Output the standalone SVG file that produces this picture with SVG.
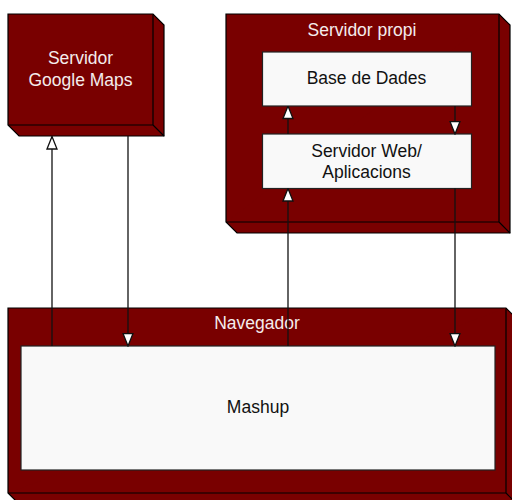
<svg xmlns="http://www.w3.org/2000/svg" width="512" height="500" viewBox="0 0 512 500">
  <style>
    .node path { fill: #790000; stroke: #000; stroke-width: 1.2; stroke-linejoin: miter; }
    .part { fill: #f9f9f9; stroke: #222; stroke-width: 1.2; }
    .lbl { font-family: "Liberation Sans", Arial, sans-serif; font-size: 17.5px; text-anchor: middle; }
    .on-red { fill: #f4ecec; }
    .on-white { fill: #111; }
    .conn line { stroke: #111; stroke-width: 1.3; fill: none; }
  </style>
  <defs>
    <!-- hollow triangular arrowhead, tip at the line end -->
    <marker id="open-tri" viewBox="0 0 14 12" refX="13.5" refY="6" markerWidth="14" markerHeight="12" markerUnits="userSpaceOnUse" orient="auto">
      <path d="M1,1 L13.5,6 L1,11 Z" fill="#fff" stroke="#111" stroke-width="1.3"/>
    </marker>
  </defs>

  <rect width="512" height="500" fill="#fff"/>

  <!-- Servidor Google Maps -->
  <g id="google-maps">
    <g class="node">
      <path d="M8,14 L153,14 L164,25 L164,136 L19,136 L8,125 Z"/>
      <path d="M153,14 L153,125 L8,125 M153,125 L164,136"/>
    </g>
    <text class="lbl on-red" x="80.5" y="64">Servidor</text>
    <text class="lbl on-red" x="80.5" y="86">Google Maps</text>
  </g>

  <!-- Servidor propi -->
  <g id="servidor-propi">
    <g class="node">
      <path d="M226,14 L499,14 L510,25 L510,233 L237,233 L226,222 Z"/>
      <path d="M499,14 L499,222 L226,222 M499,222 L510,233"/>
    </g>
    <text class="lbl on-red" x="362" y="36">Servidor propi</text>
  </g>

  <g id="base-de-dades">
    <rect class="part" x="262.5" y="52" width="209" height="54"/>
    <text class="lbl on-white" x="366.5" y="84">Base de Dades</text>
  </g>

  <g id="servidor-web">
    <rect class="part" x="262.5" y="134" width="209" height="54.5"/>
    <text class="lbl on-white" x="366.5" y="156.7">Servidor Web/</text>
    <text class="lbl on-white" x="366.5" y="177.7">Aplicacions</text>
  </g>

  <!-- Navegador -->
  <g id="navegador">
    <g class="node">
      <path d="M8,308 L506,308 L517,319 L517,504 L19,504 L8,493 Z"/>
      <path d="M506,308 L506,493 L8,493 M506,493 L517,504"/>
    </g>
    <text class="lbl on-red" x="257" y="329">Navegador</text>
  </g>

  <g id="mashup">
    <rect class="part" x="21" y="346" width="474" height="124"/>
    <text class="lbl on-white" x="258" y="413">Mashup</text>
  </g>

  <!-- Connectors -->
  <g class="conn" id="connectors">
    <line x1="52" y1="346" x2="52" y2="136.5" marker-end="url(#open-tri)"/>
    <line x1="128" y1="136" x2="128" y2="346" marker-end="url(#open-tri)"/>
    <line x1="288" y1="346" x2="288" y2="188.5" marker-end="url(#open-tri)"/>
    <line x1="455" y1="188.5" x2="455" y2="346" marker-end="url(#open-tri)"/>
    <line x1="288" y1="134" x2="288" y2="106" marker-end="url(#open-tri)"/>
    <line x1="455" y1="106" x2="455" y2="134" marker-end="url(#open-tri)"/>
  </g>
</svg>
